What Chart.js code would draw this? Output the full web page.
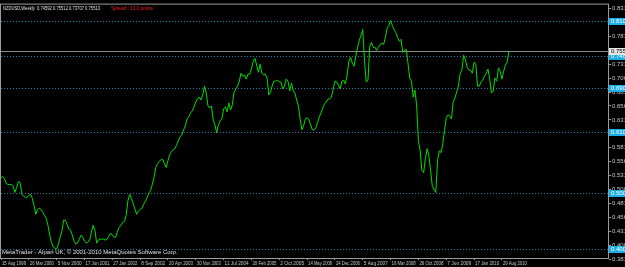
<!DOCTYPE html>
<html>
<head>
<meta charset="utf-8">
<script src="https://cdn.jsdelivr.net/npm/chart.js@4.4.0/dist/chart.umd.min.js"></script>
<style>
  html, body { margin: 0; padding: 0; background: #000; overflow: hidden; }
</style>
</head>
<body>
<canvas id="nzdChart" width="625" height="267"></canvas>
<script>
// weekly closes, one every 2 weeks starting 15 Aug 1999
const closes = [
  0.5283, 0.5301, 0.5265, 0.5176, 0.5158, 0.5158, 0.5158, 0.5123, 0.5015, 0.5105,
  0.5212, 0.5194, 0.4980, 0.4944, 0.4926, 0.4926, 0.4962, 0.4980, 0.4908, 0.4783,
  0.4623, 0.4712, 0.4730, 0.4712, 0.4658, 0.4605, 0.4551, 0.4426, 0.4248, 0.4123,
  0.4033, 0.4015, 0.3998, 0.4087, 0.4212, 0.4319, 0.4515, 0.4515, 0.4444, 0.4355,
  0.4337, 0.4248, 0.4140, 0.4087, 0.4105, 0.4176, 0.4248, 0.4212, 0.4140, 0.4105,
  0.4123, 0.4158, 0.4301, 0.4426, 0.4337, 0.4105, 0.4158, 0.4176, 0.4176, 0.4176,
  0.4158, 0.4176, 0.4230, 0.4283, 0.4248, 0.4212, 0.4212, 0.4319, 0.4390, 0.4426,
  0.4480, 0.4498, 0.4605, 0.4873, 0.4980, 0.4908, 0.4819, 0.4712, 0.4623, 0.4676,
  0.4712, 0.4730, 0.4801, 0.4855, 0.4926, 0.4998, 0.5051, 0.5158, 0.5283, 0.5462,
  0.5533, 0.5569, 0.5605, 0.5605, 0.5533, 0.5462, 0.5587, 0.5694, 0.5748, 0.5783,
  0.5801, 0.5873, 0.5944, 0.6015, 0.6051, 0.6140, 0.6212, 0.6337, 0.6373, 0.6444,
  0.6480, 0.6551, 0.6640, 0.6694, 0.6730, 0.6676, 0.6765, 0.6926, 0.6801, 0.6569,
  0.6533, 0.6569, 0.6319, 0.6230, 0.6087, 0.6230, 0.6301, 0.6337, 0.6515, 0.6551,
  0.6462, 0.6623, 0.6498, 0.6587, 0.6819, 0.6873, 0.6926, 0.7015, 0.7158, 0.7105,
  0.7123, 0.7051, 0.7140, 0.7140, 0.7230, 0.7373, 0.7426, 0.7301, 0.7176, 0.7319,
  0.7158, 0.7123, 0.7140, 0.7069, 0.6765, 0.6819, 0.6944, 0.7015, 0.7015, 0.7033,
  0.6998, 0.6998, 0.6873, 0.6926, 0.7051, 0.7015, 0.6837, 0.6980, 0.6837, 0.6801,
  0.6676, 0.6569, 0.6337, 0.6140, 0.6212, 0.6337, 0.6355, 0.6319, 0.6230, 0.6140,
  0.6140, 0.6176, 0.6265, 0.6373, 0.6444, 0.6533, 0.6605, 0.6640, 0.6694, 0.6694,
  0.6730, 0.6873, 0.7015, 0.6998, 0.6944, 0.6873, 0.7015, 0.7033, 0.6962, 0.7123,
  0.7373, 0.7444, 0.7337, 0.7283, 0.7462, 0.7623, 0.7748, 0.7837, 0.7944, 0.7373,
  0.6998, 0.7033, 0.7640, 0.7712, 0.7623, 0.7623, 0.7569, 0.7623, 0.7676, 0.7694,
  0.7676, 0.7801, 0.7962, 0.8015, 0.8105, 0.8015, 0.7944, 0.7890, 0.7801, 0.7730,
  0.7765, 0.7533, 0.7569, 0.7587, 0.7337, 0.7069, 0.7015, 0.6730, 0.6855, 0.6569,
  0.5944, 0.5765, 0.5408, 0.5373, 0.5623, 0.5801, 0.5676, 0.5408, 0.5123, 0.5069,
  0.5015, 0.5587, 0.5765, 0.5730, 0.5890, 0.6123, 0.6355, 0.6408, 0.6390, 0.6337,
  0.6640, 0.6712, 0.6819, 0.6926, 0.7158, 0.7212, 0.7480, 0.7408, 0.7265, 0.7212,
  0.7212, 0.7158, 0.7355, 0.7319, 0.6926, 0.6926, 0.6998, 0.7033, 0.7105, 0.7158,
  0.7230, 0.7051, 0.6801, 0.6837, 0.7069, 0.7015, 0.7248, 0.7194, 0.7051, 0.7194,
  0.7301, 0.7355, 0.7551
];
const weekStep = 2;

const dateLabels = [
  "15 Aug 1999", "26 Mar 2000", "5 Nov 2000", "17 Jun 2001", "27 Jan 2002",
  "8 Sep 2002", "20 Apr 2003", "30 Nov 2003", "11 Jul 2004", "20 Feb 2005",
  "2 Oct 2005", "14 May 2006", "24 Dec 2006", "5 Aug 2007", "16 Mar 2008",
  "26 Oct 2008", "7 Jun 2009", "17 Jan 2010", "29 Aug 2010"
];
const dateWeeks = [0, 32, 64, 96, 128, 160, 192, 224, 256, 288, 320, 352, 384, 416, 448, 480, 512, 544, 576];

const priceTicks = [
  0.83190, 0.80690, 0.78190, 0.75690, 0.73190, 0.70690, 0.68190, 0.65690, 0.63190, 0.60690,
  0.58190, 0.55690, 0.53190, 0.50690, 0.48190, 0.45690, 0.43190, 0.40690, 0.38190
];

// horizontal levels drawn on the chart
const levels = [0.81000, 0.74600, 0.69000, 0.61000, 0.50000, 0.40000];
const bidPrice = 0.75513;

const titleText = "NZDUSD,Weekly  0.74592 0.75512 0.73707 0.75513";
const spreadText = "Spread : 13.0 points";
const footerText = "MetaTrader - Alpari UK, \u00a9 2001-2010 MetaQuotes Software Corp.";

const frameColor = "#9a9a9a";
const textColor = "#c8c8c8";
const smallFont = "6px 'Liberation Sans', Arial, sans-serif";

const points = closes.map((v, i) => ({ x: i * weekStep, y: v }));

// draws frame, level lines, bid line, texts and axis price boxes
const mtPlugin = {
  id: "mtPlugin",
  beforeDatasetsDraw(chart) {
    const { ctx, chartArea, scales } = chart;
    ctx.save();
    ctx.lineWidth = 1;
    ctx.strokeStyle = "#1a82ad";
    ctx.setLineDash([1, 2]);
    levels.forEach((lv) => {
      const y = Math.round(scales.y.getPixelForValue(lv)) + 0.5;
      ctx.beginPath();
      ctx.moveTo(chartArea.left, y);
      ctx.lineTo(chartArea.right, y);
      ctx.stroke();
    });
    ctx.setLineDash([]);
    ctx.strokeStyle = "#8c8c8c";
    const by = Math.round(scales.y.getPixelForValue(bidPrice)) + 0.5;
    ctx.beginPath();
    ctx.moveTo(chartArea.left, by);
    ctx.lineTo(chartArea.right, by);
    ctx.stroke();
    ctx.restore();
  },
  afterDraw(chart) {
    const { ctx, chartArea, scales } = chart;
    ctx.save();
    ctx.strokeStyle = frameColor;
    ctx.lineWidth = 1;
    ctx.strokeRect(chartArea.left - 0.5, chartArea.top - 0.5,
      chartArea.right - chartArea.left + 1, chartArea.bottom - chartArea.top + 1);

    ctx.font = smallFont;
    ctx.textBaseline = "middle";
    ctx.textAlign = "left";
    ctx.fillStyle = "#e0e0e0";
    ctx.fillText(titleText, chartArea.left + 2, chartArea.top + 4, 97);
    ctx.fillStyle = "#ff1a1a";
    ctx.fillText(spreadText, chartArea.left + 110, chartArea.top + 4, 42);
    ctx.fillStyle = "#e0e0e0";
    ctx.fillText(footerText, chartArea.left + 1, chartArea.bottom - 6, 184);

    // date labels under the frame
    ctx.fillStyle = textColor;
    dateWeeks.forEach((w, i) => {
      const x = scales.x.getPixelForValue(w);
      ctx.fillText(dateLabels[i], x + 1, chartArea.bottom + 5, 24);
    });

    // price boxes on the right axis
    const boxX = chartArea.right + 1;
    levels.forEach((lv) => {
      const y = Math.round(scales.y.getPixelForValue(lv));
      ctx.fillStyle = "#19aee6";
      ctx.fillRect(boxX, y - 3, 30, 7);
      ctx.fillStyle = "#ffffff";
      ctx.fillText(lv.toFixed(5), boxX + 2, y + 0.5);
    });
    const by = Math.round(scales.y.getPixelForValue(bidPrice));
    ctx.fillStyle = "#e6e6e6";
    ctx.fillRect(boxX, by - 3, 30, 7);
    ctx.fillStyle = "#000000";
    ctx.fillText(bidPrice.toFixed(5), boxX + 2, by + 0.5);
    ctx.restore();
  }
};

new Chart(document.getElementById("nzdChart"), {
  type: "line",
  data: {
    datasets: [
      {
        label: "NZDUSD",
        data: points,
        borderColor: "#00dd00",
        borderWidth: 1,
        pointRadius: 0,
        tension: 0,
      },
    ],
  },
  options: {
    responsive: false,
    animation: false,
    layout: { padding: { left: 1, top: 3, right: 0, bottom: 0 } },
    plugins: {
      legend: { display: false },
      tooltip: { enabled: false },
    },
    scales: {
      x: {
        type: "linear",
        min: 0,
        max: 698,
        afterBuildTicks: (s) => {
          s.ticks = dateWeeks.map((w) => ({ value: w }));
        },
        afterFit: (s) => {
          s.height = 9;
        },
        ticks: { display: false },
        grid: { drawOnChartArea: false, tickLength: 2, color: frameColor },
        border: { color: frameColor },
      },
      y: {
        position: "right",
        min: 0.3837,
        max: 0.8390,
        afterBuildTicks: (s) => {
          s.ticks = priceTicks.map((p) => ({ value: p }));
        },
        afterFit: (s) => {
          s.width = 17;
        },
        ticks: {
          autoSkip: false,
          padding: 1,
          color: textColor,
          font: { family: "'Liberation Sans', Arial, sans-serif", size: 6 },
          callback: (v) => v.toFixed(5),
        },
        grid: { drawOnChartArea: false, tickLength: 3, color: frameColor },
        border: { color: frameColor },
      },
    },
  },
  plugins: [mtPlugin],
});
</script>
</body>
</html>
